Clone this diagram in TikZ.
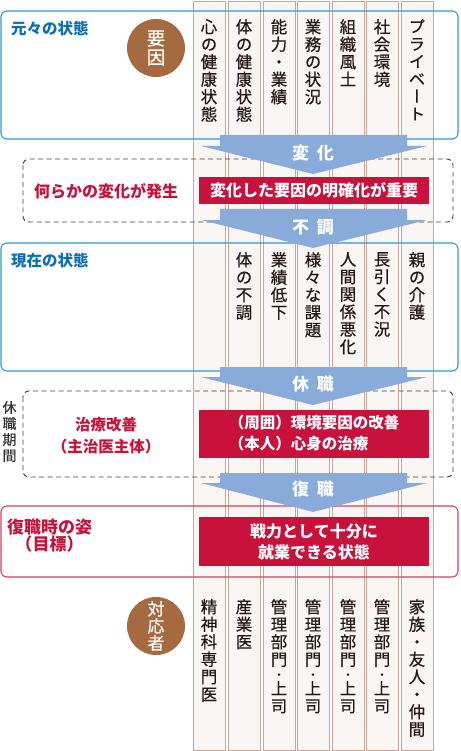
\documentclass[tikz,border=0pt]{standalone}
\usepackage{fontspec}
\usepackage{tikz}
\newfontfamily\jp{Noto Sans CJK JP}
\newfontfamily\jpv[RawFeature=+vert,FakeBold=0.35]{Noto Sans CJK JP}
\definecolor{boxblue}{HTML}{2A9BD7}
\definecolor{headblue}{HTML}{0A6DB6}
\definecolor{deepred}{HTML}{C8123C}
\definecolor{colfill}{HTML}{F9F6F3}
\definecolor{coledge}{HTML}{C9A697}
\definecolor{arrowblue}{HTML}{88ABDA}
\definecolor{factorbrown}{HTML}{A56A3F}
\definecolor{darktext}{HTML}{231815}

\begin{document}
\begin{tikzpicture}[x=1pt,y=-1pt,
	column/.style={fill=colfill,draw=coledge,line width=0.8pt},
	coltext/.style={anchor=north,inner sep=0pt,align=center,text=darktext,font=\jpv\fontsize{16.5}{17.5}\selectfont},
	stagebox/.style={draw=boxblue,line width=1.1pt,rounded corners=6pt},
	goalbox/.style={draw=deepred!80,line width=1.1pt,rounded corners=6pt},
	periodbox/.style={draw=black!75,line width=0.9pt,dash pattern=on 5pt off 3.5pt,rounded corners=6pt},
	flow/.style={fill=arrowblue},
	flowtext/.style={inner sep=0pt,text=white,font=\jp\bfseries\fontsize{17}{19}\selectfont},
	redbox/.style={fill=deepred,inner sep=0pt,minimum width=230pt,text=white,font=\jp\bfseries\fontsize{16}{21}\selectfont},
	factor/.style={circle,fill=factorbrown,inner sep=0pt,minimum size=58pt,text=white,align=center},
	bluehead/.style={anchor=west,inner sep=0pt,text=headblue,font=\jp\bfseries\fontsize{15.5}{18}\selectfont},
	redhead/.style={inner sep=0pt,text=deepred,align=center,font=\jp\bfseries\fontsize{16}{22}\selectfont}]
	\useasboundingbox (0, 0) rectangle (460, 751);
	% columns
	\draw [column] (193, 1) rectangle (225, 750);
	\draw [column] (228, 1) rectangle (260, 750);
	\draw [column] (263, 1) rectangle (295, 750);
	\draw [column] (297, 1) rectangle (329, 750);
	\draw [column] (332, 1) rectangle (364, 750);
	\draw [column] (366, 1) rectangle (398, 750);
	\draw [column] (401, 1) rectangle (433, 750);
	
	% stages
	\draw [stagebox] (1, 11) rectangle (458, 139);
	\draw [periodbox] (23, 159) rectangle (453, 222);
	\draw [stagebox] (1, 243) rectangle (458, 371);
	\draw [periodbox] (23, 391) rectangle (453, 477);
	\draw [goalbox] (1, 506) rectangle (458, 577);
	
	% arrows
	\fill [flow] (220, 135) -- (407, 135) -- (407, 146) -- (427, 146) -- (313, 174) -- (201, 146) -- (220, 146) -- cycle;
	\fill [flow] (220, 209) -- (407, 209) -- (407, 220) -- (427, 220) -- (313, 248) -- (201, 220) -- (220, 220) -- cycle;
	\fill [flow] (220, 367) -- (407, 367) -- (407, 377) -- (427, 377) -- (313, 405) -- (201, 377) -- (220, 377) -- cycle;
	\fill [flow] (220, 473) -- (407, 473) -- (407, 483) -- (427, 483) -- (313, 512) -- (201, 483) -- (220, 483) -- cycle;
	\node [flowtext] (henka) at (313, 153) {変\hspace{8pt}化};
	\node [flowtext] (fucho) at (313, 227) {不\hspace{8pt}調};
	\node [flowtext] (kyushoku) at (313, 384) {休\hspace{8pt}職};
	\node [flowtext] (fukushoku) at (313, 489) {復\hspace{8pt}職};
	
	% red boxes
	\node [redbox, minimum height=27pt] (meikaku) at (314, 190.5) {変化した要因の明確化が重要};
	\node [redbox, minimum height=48pt, align=left, font=\jp\bfseries\fontsize{15.5}{21}\selectfont] (kaizen) at (314, 433.5) {（周囲）環境要因の改善\\（本人）心身の治療};
	\node [redbox, minimum height=49pt, align=center] (senryoku) at (314, 541.5) {戦力として十分に\\就業できる状態};
	
	% left labels
	\node [bluehead] (moto) at (11, 29) {元々の状態};
	\node [bluehead] (genzai) at (11, 261) {現在の状態};
	\node [redhead, anchor=west] (hassei) at (34, 191) {何らかの変化が発生};
	\node [redhead, font=\jp\bfseries\fontsize{15.5}{22}\selectfont] (chiryo) at (106, 436) {治療改善\\（主治医主体）};
	\node [redhead, font=\jp\bfseries\fontsize{17}{17}\selectfont] (sugata) at (49.5, 535.5) {復職時の姿\\（目標）};
	\node [inner sep=0pt, align=center, text=black!80, font=\jpv\fontsize{14}{16}\selectfont] (kikan) at (9.5, 431.5) {休\\職\\期\\間};
	\node [factor, font=\jpv\fontsize{18.5}{19}\selectfont] (yoin) at (156, 48) {要\\因};
	\node [factor, font=\jpv\fontsize{17}{17}\selectfont] (taiosha) at (156, 626) {対\\応\\者};
	
	% column texts
	\node [coltext] (c1a) at (209, 19) {心\\の\\健\\康\\状\\態};
	\node [coltext] (c2a) at (244, 19) {体\\の\\健\\康\\状\\態};
	\node [coltext] (c3a) at (279, 19) {能\\力\\・\\業\\績};
	\node [coltext] (c4a) at (313, 19) {業\\務\\の\\状\\況};
	\node [coltext] (c5a) at (348, 19) {組\\織\\風\\土};
	\node [coltext] (c6a) at (382, 19) {社\\会\\環\\境};
	\node [coltext] (c7a) at (417, 19) {プ\\ラ\\イ\\ベ\\ー\\ト};
	
	\node [coltext] (c2b) at (244, 252) {体\\の\\不\\調};
	\node [coltext] (c3b) at (279, 252) {業\\績\\低\\下};
	\node [coltext] (c4b) at (313, 252) {様\\々\\な\\課\\題};
	\node [coltext] (c5b) at (348, 252) {人\\間\\関\\係\\悪\\化};
	\node [coltext] (c6b) at (382, 252) {長\\引\\く\\不\\況};
	\node [coltext] (c7b) at (417, 252) {親\\の\\介\\護};
	
	\node [coltext] (c1c) at (209, 599) {精\\神\\科\\専\\門\\医};
	\node [coltext] (c2c) at (244, 599) {産\\業\\医};
	\node [coltext] (c3c) at (279, 599) {管\\理\\部\\門\\[-4pt]{\fontsize{12}{12}\selectfont ・}\\[-2pt]上\\司};
	\node [coltext] (c4c) at (313, 599) {管\\理\\部\\門\\[-4pt]{\fontsize{12}{12}\selectfont ・}\\[-2pt]上\\司};
	\node [coltext] (c5c) at (348, 599) {管\\理\\部\\門\\[-4pt]{\fontsize{12}{12}\selectfont ・}\\[-2pt]上\\司};
	\node [coltext] (c6c) at (382, 599) {管\\理\\部\\門\\[-4pt]{\fontsize{12}{12}\selectfont ・}\\[-2pt]上\\司};
	\node [coltext] (c7c) at (417, 599) {家\\族\\・\\友\\人\\・\\仲\\間};
\end{tikzpicture}
\end{document}
